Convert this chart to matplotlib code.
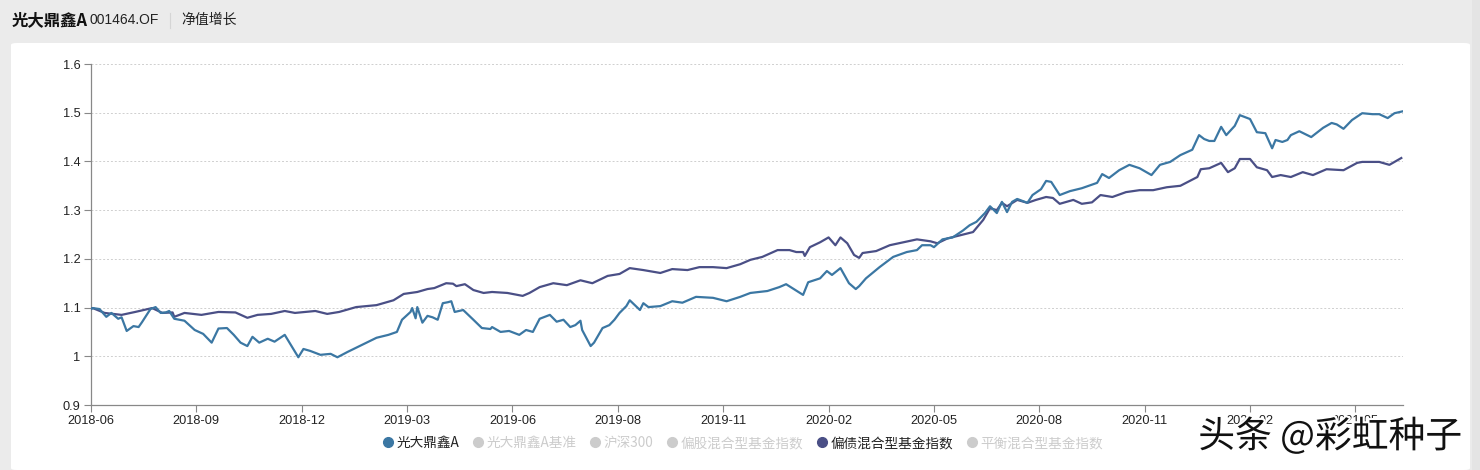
import matplotlib
matplotlib.use("Agg")
import matplotlib.pyplot as plt
from matplotlib.patches import FancyBboxPatch, Rectangle
from matplotlib.lines import Line2D
import matplotlib.patheffects as pe

# ---------------- data ----------------
fund_name = "光大鼎鑫A"
fund_code = "001464.OF"
tab_name = "净值增长"
legend_labels = ["光大鼎鑫A", "光大鼎鑫A基准", "沪深300", "偏股混合型基金指数", "偏债混合型基金指数", "平衡混合型基金指数"]
legend_active = [True, False, False, False, True, False]

x_tick_labels = ["2018-06", "2018-09", "2018-12", "2019-03", "2019-06", "2019-08", "2019-11",
                 "2020-02", "2020-05", "2020-08", "2020-11", "2021-02", "2021-05"]
x_tick_days = [0, 62, 124, 186, 248, 310, 372, 434, 496, 558, 620, 682, 744]
y_ticks = [0.9, 1.0, 1.1, 1.2, 1.3, 1.4, 1.5, 1.6]
y_tick_labels = ["0.9", "1", "1.1", "1.2", "1.3", "1.4", "1.5", "1.6"]

# 光大鼎鑫A (trading-day index, net value)
fund_days = [0, 1, 5, 9, 12, 16, 18, 21, 25, 28, 30, 35, 38, 41, 44, 46, 49, 55, 61, 66, 71, 75, 80,
             84, 88, 92, 95, 99, 104, 108, 114, 118, 122, 125, 129, 135, 141, 145, 151, 158, 168, 175,
             180, 183, 188, 189, 191, 192, 195, 198, 201, 204, 207, 210, 212, 214, 219, 225, 230, 235,
             236, 241, 246, 252, 256, 260, 264, 270, 274, 278, 282, 285, 288, 289, 292, 294, 296, 301,
             305, 308, 311, 315, 317, 320, 323, 325, 328, 335, 342, 348, 356, 366, 374, 382, 388, 398,
             405, 409, 419, 422, 429, 433, 436, 441, 446, 450, 452, 456, 464, 472, 480, 486, 489, 494,
             496, 501, 507, 513, 517, 521, 526, 529, 533, 536, 539, 542, 545, 551, 554, 559, 562, 565,
             570, 576, 583, 592, 595, 599, 605, 611, 617, 624, 629, 635, 641, 648, 652, 655, 658, 661,
             665, 668, 673, 676, 682, 686, 691, 695, 697, 701, 704, 706, 711, 718, 725, 730, 733, 737,
             742, 748, 754, 758, 763, 767, 772]
fund_values = [1.097, 1.099, 1.097, 1.081, 1.089, 1.077, 1.080, 1.052, 1.062, 1.060, 1.070, 1.097,
               1.101, 1.089, 1.090, 1.093, 1.077, 1.073, 1.054, 1.046, 1.028, 1.057, 1.058, 1.044,
               1.028, 1.021, 1.040, 1.028, 1.036, 1.030, 1.044, 1.021, 0.998, 1.015, 1.011, 1.003,
               1.005, 0.998, 1.009, 1.021, 1.038, 1.044, 1.050, 1.075, 1.091, 1.099, 1.078, 1.101,
               1.069, 1.083, 1.080, 1.075, 1.109, 1.111, 1.113, 1.091, 1.095, 1.075, 1.058, 1.056,
               1.060, 1.050, 1.052, 1.044, 1.054, 1.050, 1.077, 1.085, 1.071, 1.075, 1.060, 1.064,
               1.073, 1.054, 1.034, 1.021, 1.028, 1.058, 1.064, 1.075, 1.089, 1.103, 1.115, 1.105,
               1.095, 1.109, 1.101, 1.103, 1.113, 1.110, 1.122, 1.120, 1.113, 1.122, 1.130, 1.134,
               1.142, 1.148, 1.126, 1.152, 1.160, 1.175, 1.167, 1.181, 1.150, 1.138, 1.144, 1.160,
               1.183, 1.204, 1.214, 1.218, 1.228, 1.228, 1.224, 1.240, 1.244, 1.258, 1.269, 1.276,
               1.294, 1.308, 1.294, 1.317, 1.296, 1.317, 1.323, 1.315, 1.331, 1.343, 1.360, 1.358,
               1.331, 1.339, 1.345, 1.356, 1.374, 1.366, 1.382, 1.393, 1.386, 1.372, 1.393, 1.399,
               1.413, 1.424, 1.454, 1.446, 1.442, 1.442, 1.471, 1.454, 1.473, 1.495, 1.487, 1.460,
               1.458, 1.427, 1.444, 1.440, 1.444, 1.454, 1.462, 1.450, 1.469, 1.479, 1.476, 1.467,
               1.485, 1.499, 1.497, 1.497, 1.489, 1.499, 1.503]

# 偏债混合型基金指数
index_days = [0, 1, 8, 18, 26, 36, 42, 48, 49, 55, 65, 75, 85, 92, 98, 106, 114, 120, 132, 139, 146,
              156, 168, 178, 184, 192, 198, 202, 209, 213, 215, 220, 225, 231, 236, 245, 254, 258, 264,
              272, 280, 288, 295, 304, 311, 317, 325, 335, 342, 351, 358, 366, 374, 382, 388, 395, 404,
              411, 415, 419, 420, 423, 429, 434, 438, 441, 445, 449, 452, 454, 462, 470, 478, 486, 494,
              498, 504, 511, 519, 525, 529, 533, 536, 539, 545, 551, 556, 562, 566, 570, 578, 583, 589,
              594, 601, 609, 617, 625, 633, 641, 651, 653, 658, 665, 669, 673, 676, 682, 686, 692, 695,
              700, 706, 713, 719, 727, 737, 745, 748, 758, 764, 771]
index_values = [1.097, 1.099, 1.089, 1.085, 1.091, 1.099, 1.089, 1.090, 1.081, 1.089, 1.085, 1.091,
                1.090, 1.079, 1.085, 1.087, 1.093, 1.089, 1.093, 1.087, 1.091, 1.101, 1.105, 1.115,
                1.128, 1.132, 1.138, 1.140, 1.150, 1.149, 1.144, 1.148, 1.136, 1.130, 1.132, 1.130,
                1.124, 1.130, 1.142, 1.150, 1.146, 1.156, 1.150, 1.165, 1.169, 1.181, 1.177, 1.171,
                1.179, 1.177, 1.183, 1.183, 1.181, 1.189, 1.198, 1.204, 1.218, 1.218, 1.214, 1.214,
                1.206, 1.224, 1.234, 1.244, 1.228, 1.244, 1.232, 1.208, 1.202, 1.212, 1.216, 1.228,
                1.234, 1.240, 1.236, 1.232, 1.242, 1.248, 1.255, 1.280, 1.304, 1.300, 1.315, 1.308,
                1.321, 1.315, 1.321, 1.327, 1.325, 1.313, 1.321, 1.313, 1.316, 1.331, 1.327, 1.337,
                1.341, 1.341, 1.347, 1.350, 1.368, 1.384, 1.386, 1.397, 1.378, 1.386, 1.405, 1.405,
                1.388, 1.382, 1.368, 1.372, 1.368, 1.378, 1.372, 1.384, 1.382, 1.397, 1.399, 1.399,
                1.393, 1.407]

# ---------------- style ----------------
fund_color = "#3b77a3"
index_color = "#4a4f86"
inactive_color = "#cccccc"
CJK = ["Noto Sans CJK SC", "DejaVu Sans"]
NUM = ["Liberation Sans", "DejaVu Sans"]

W, H = 1480, 470
fig = plt.figure(figsize=(W / 100, H / 100), dpi=100)
fig.patch.set_facecolor("#ebebeb")

# white panel (drawn below the axes)
panel = FancyBboxPatch((11 / W, 0), (1470 - 11) / W, (H - 43) / H,
                       boxstyle="round,pad=0,rounding_size=0.004",
                       transform=fig.transFigure, facecolor="white", edgecolor="none", zorder=-5)
fig.patches.append(panel)
fig.patches.append(Rectangle((1472 / W, 0), 8 / W, 1, transform=fig.transFigure,
                             facecolor="#e4e4e4", edgecolor="none", zorder=-5))

# header
fig.text(12 / W, 1 - 20 / H, fund_name, family=CJK, fontsize=11.8, fontweight="bold",
         color="#111111", va="center", ha="left")
fig.text(90 / W, 1 - 20 / H, fund_code, family=NUM, fontsize=10, color="#222222",
         va="center", ha="left")
fig.add_artist(Line2D([170 / W, 170 / W], [1 - 13 / H, 1 - 28 / H], transform=fig.transFigure,
                      color="#d5d5d5", lw=0.8))
fig.text(181 / W, 1 - 20 / H, tab_name, family=CJK, fontsize=10, color="#222222",
         va="center", ha="left")

# axes
ax = fig.add_axes([91 / W, 1 - 405 / H, (1403 - 91) / W, (405 - 64) / H], zorder=2)
ax.set_facecolor("none")
ax.plot(index_days, index_values, color=index_color, lw=1.6, zorder=3, solid_joinstyle="round")
ax.plot(fund_days, fund_values, color=fund_color, lw=1.6, zorder=4, solid_joinstyle="round")

ax.set_xlim(0, 772)
ax.set_ylim(0.9, 1.6)
ax.set_xticks(x_tick_days)
ax.set_xticklabels(x_tick_labels, family=NUM, fontsize=9.2, color="#222222")
ax.set_yticks(y_ticks)
ax.set_yticklabels(y_tick_labels, family=NUM, fontsize=9.2, color="#222222")
ax.tick_params(axis="both", length=5, width=0.8, color="#888888", pad=2.5)
for s in ["top", "right"]:
    ax.spines[s].set_visible(False)
for s in ["left", "bottom"]:
    ax.spines[s].set_color("#888888")
    ax.spines[s].set_linewidth(0.9)
ax.grid(axis="y", color="#cfcfcf", linestyle=(0, (2, 2)), lw=0.7)
ax.set_axisbelow(True)

# legend
handles = []
for i, (lab, act) in enumerate(zip(legend_labels, legend_active)):
    if i == 0:
        c = fund_color
    elif act:
        c = index_color
    else:
        c = inactive_color
    handles.append(Line2D([], [], marker="o", linestyle="none", markersize=7,
                          markerfacecolor=c, markeredgecolor=c, label=lab))
leg = fig.legend(handles=handles, loc="center", bbox_to_anchor=(742 / W, 1 - 443 / H),
                 ncol=6, frameon=False, prop={"family": CJK, "size": 9.8},
                 handletextpad=0.1, columnspacing=0.9, handlelength=1.0)
for txt, act in zip(leg.get_texts(), legend_active):
    txt.set_color("#222222" if act else inactive_color)

# watermark
fig.text(1330 / W, 1 - 437 / H, "头条 @彩虹种子", family=CJK, fontsize=26.5, fontweight="medium",
         color="#111111", ha="center", va="center",
         path_effects=[pe.withStroke(linewidth=3, foreground="white")], zorder=10)

fig.savefig("out.png", dpi=100, facecolor=fig.get_facecolor())
